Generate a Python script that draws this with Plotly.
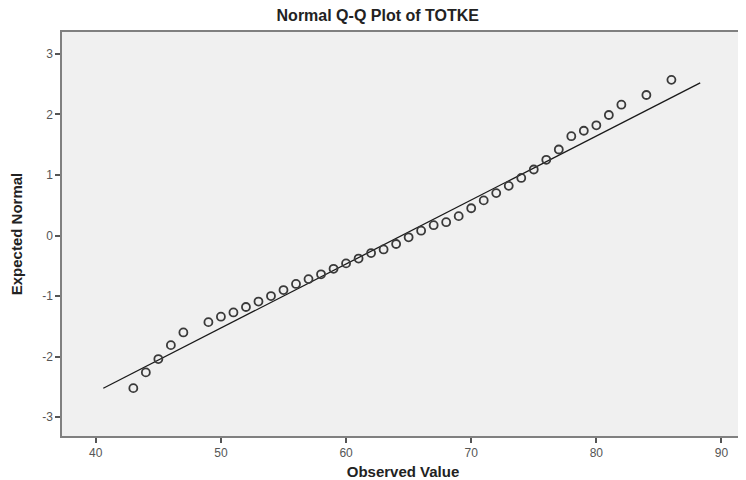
import plotly.graph_objects as go

# Observed values (distinct TOTKE scores) and their expected normal quantiles
observed = [43, 44, 45, 46, 47, 49, 50, 51, 52, 53, 54, 55, 56, 57, 58, 59, 60,
            61, 62, 63, 64, 65, 66, 67, 68, 69, 70, 71, 72, 73, 74, 75, 76, 77,
            78, 79, 80, 81, 82, 84, 86]
expected = [-2.52, -2.26, -2.04, -1.81, -1.60, -1.43, -1.34, -1.27, -1.18, -1.09,
            -1.00, -0.90, -0.80, -0.72, -0.64, -0.55, -0.46, -0.38, -0.29, -0.23,
            -0.14, -0.03, 0.08, 0.17, 0.22, 0.32, 0.45, 0.58, 0.70, 0.82, 0.95,
            1.09, 1.25, 1.42, 1.64, 1.73, 1.82, 1.99, 2.16, 2.32, 2.57]

# Reference line parameters (mean, sd) and its x extent
mean_val = 64.45
sd_val = 9.46
line_x = [40.6, 88.3]
line_y = [(v - mean_val) / sd_val for v in line_x]

x_ticks = [40, 50, 60, 70, 80, 90]
y_ticks = [-3, -2, -1, 0, 1, 2, 3]
y_tick_labels = ["-3", "-2", "-1", "0", "1", "2", "3"]

fig = go.Figure()
fig.add_trace(go.Scatter(x=line_x, y=line_y, mode="lines",
                         line=dict(color="#1a1a1a", width=1.3),
                         hoverinfo="skip", showlegend=False))
fig.add_trace(go.Scatter(x=observed, y=expected, mode="markers",
                         marker=dict(symbol="circle-open", size=8,
                                     color="#3a3a3a", line=dict(width=1.8, color="#3a3a3a")),
                         showlegend=False))

axis_common = dict(showgrid=False, zeroline=False, showline=True, mirror=True,
                   automargin=False,
                   linecolor="#808080", linewidth=1.5, ticks="outside",
                   ticklen=5, tickwidth=1.5, tickcolor="#555555",
                   tickfont=dict(family="Liberation Sans, Arial", size=12, color="#555555"))

# page body adds an 8px offset on top/left, so the figure is sized to fit
fig.update_layout(
    width=738, height=472,
    margin=dict(l=54, r=2, t=24, b=44),
    paper_bgcolor="white", plot_bgcolor="#f0f0f0",
    title=dict(text="<b>Normal Q-Q Plot of TOTKE</b>", x=0.501, xanchor="center",
               y=0.984, yanchor="middle", automargin=False,
               font=dict(family="Liberation Sans, Arial", size=16, color="#222222")),
    xaxis=dict(range=[37.3, 91.8], tickvals=x_ticks,
               title=dict(text="<b>Observed Value</b>", standoff=15,
                          font=dict(family="Liberation Sans, Arial", size=15, color="#222222")),
               **axis_common),
    yaxis=dict(range=[-3.31, 3.36], tickvals=y_ticks, ticktext=y_tick_labels,
               title=dict(text="<b>Expected Normal</b>", standoff=17,
                          font=dict(family="Liberation Sans, Arial", size=15, color="#222222")),
               **axis_common),
)

fig.write_html("out.html")
